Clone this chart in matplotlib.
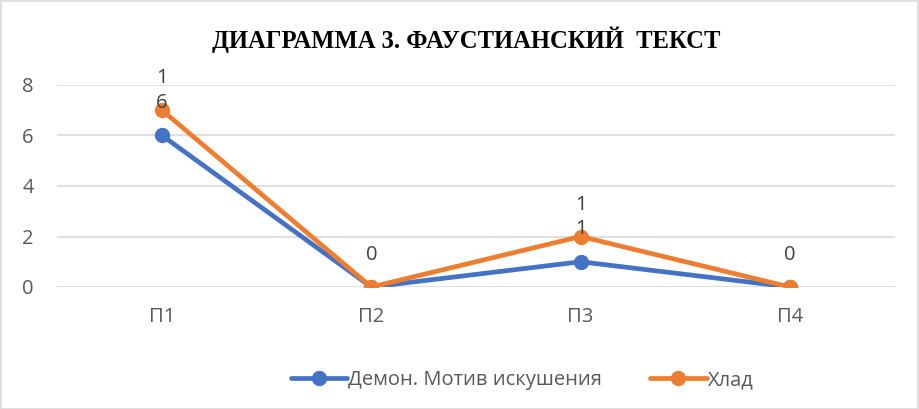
import matplotlib
matplotlib.use("Agg")
import matplotlib.pyplot as plt
from matplotlib.patches import Rectangle

categories = ["П1", "П2", "П3", "П4"]
demon = [6, 0, 1, 0]
khlad = [7, 0, 2, 0]
labels_upper = ["1", "0", "1", "0"]
labels_lower = ["6", "", "1", ""]
series_names = ["Демон. Мотив искушения", "Хлад"]
title = "ДИАГРАММА 3. ФАУСТИАНСКИЙ  ТЕКСТ"

BLUE = "#4472C4"
ORANGE = "#ED7D31"
GRAY = "#595959"

W, H = 919, 409
fig = plt.figure(figsize=(W / 100, H / 100), dpi=100)
ax = fig.add_axes([57.4 / W, 1 - 287 / H, (894.6 - 57.4) / W, (287 - 85) / H])

x = list(range(len(categories)))
ax.plot(x, demon, color=BLUE, lw=3.4, marker="o", ms=10, solid_capstyle="round",
        label=series_names[0], zorder=3)
ax.plot(x, khlad, color=ORANGE, lw=3.4, marker="o", ms=10, solid_capstyle="round",
        label=series_names[1], zorder=4)

font = "Open Sans"
FS = 14.5
for xi, yi, up, lo in zip(x, khlad, labels_upper, labels_lower):
    ax.annotate(up, (xi, yi), xytext=(0, 23), textcoords="offset points",
                ha="center", va="center", fontsize=FS, color="#404040", family=font, zorder=5)
    if lo:
        ax.annotate(lo, (xi, yi), xytext=(0, 5.5), textcoords="offset points",
                    ha="center", va="center", fontsize=FS, color="#404040", family=font, zorder=5)

ax.set_xlim(-0.5, len(categories) - 0.5)
ax.set_ylim(0, 8)
ax.set_yticks([0, 2, 4, 6, 8])
ax.set_xticks(x)
ax.set_xticklabels(categories)
for s in ax.spines.values():
    s.set_visible(False)
ax.grid(axis="y", color="#D9D9D9", lw=1.2)
ax.set_axisbelow(True)
ax.tick_params(length=0, labelsize=FS, labelcolor=GRAY)
ax.tick_params(axis="x", pad=14.5)
ax.tick_params(axis="y", pad=17)
for lab in ax.get_xticklabels() + ax.get_yticklabels():
    lab.set_family(font)

fig.text(466 / W, 1 - 40 / H, title, ha="center", va="center", fontsize=17.7,
         fontweight="bold", family="Liberation Serif", color="black")

leg = fig.legend(loc="center", bbox_to_anchor=(522 / W, 1 - 380 / H), ncol=2, frameon=False,
                 prop={"family": font, "size": FS}, handlelength=2.8, handletextpad=0.05,
                 columnspacing=2.4, labelcolor=GRAY)

fig.patches.append(Rectangle((0.5 / W, 0.5 / H), 1 - 1.5 / W, 1 - 1.5 / H, transform=fig.transFigure,
                             fill=False, ec="#D9D9D9", lw=1.2))

fig.savefig("out.png", dpi=100, facecolor="white")
